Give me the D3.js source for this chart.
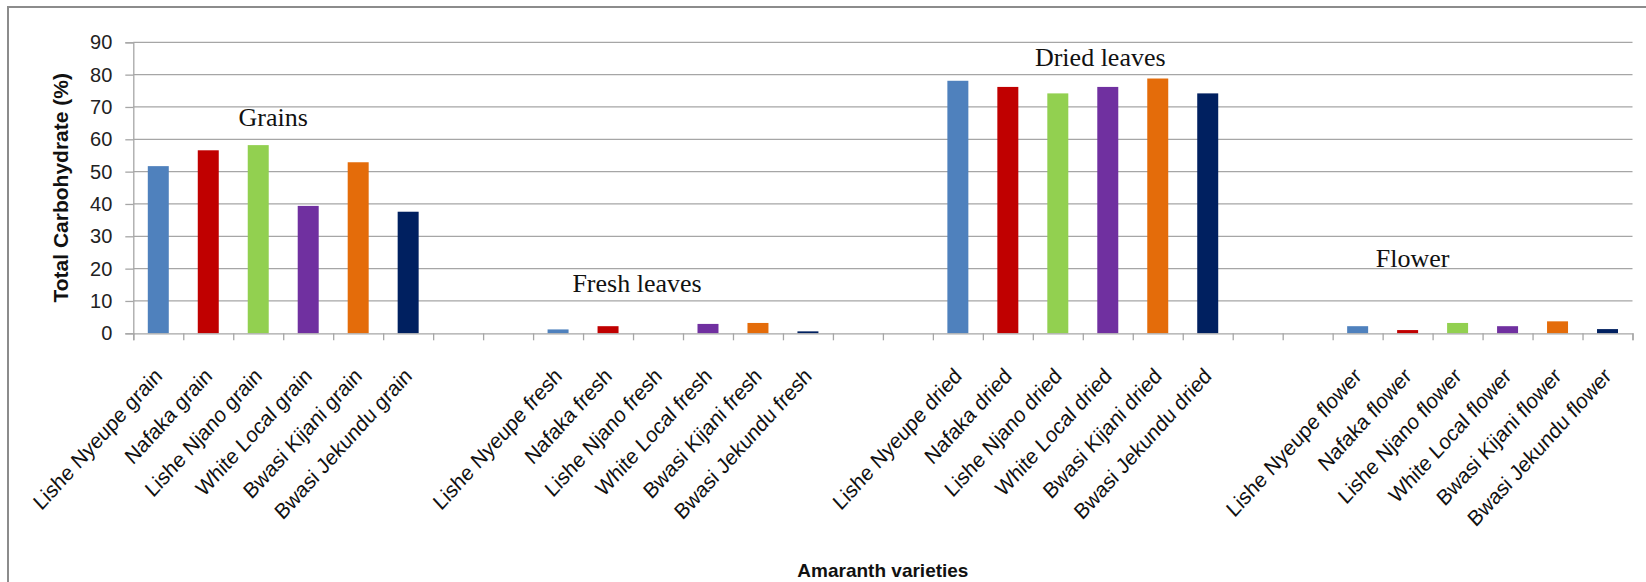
<!DOCTYPE html>
<html>
<head>
<meta charset="utf-8">
<script src="https://cdn.jsdelivr.net/npm/d3@7/dist/d3.min.js"></script>
<style>
  html, body { margin: 0; padding: 0; background: #fff; }
  svg { display: block; }
</style>
</head>
<body>
<svg id="chart" width="1646" height="582"></svg>
<script>
// Amaranth varieties, total carbohydrate (%) by plant part
const varieties = ["Lishe Nyeupe", "Nafaka", "Lishe Njano", "White Local", "Bwasi Kijani", "Bwasi Jekundu"];
const parts = ["grain", "fresh", "dried", "flower"];
const grainValues  = [51.7, 56.6, 58.2, 39.4, 52.9, 37.6];
const freshValues  = [1.2, 2.2, 0, 2.9, 3.2, 0.6];
const driedValues  = [78.1, 76.2, 74.2, 76.2, 78.8, 74.2];
const flowerValues = [2.2, 1.0, 3.2, 2.2, 3.7, 1.3];
const varietyColors = ["#4F81BD", "#C00000", "#92D050", "#7030A0", "#E46C0A", "#002060"];
const yTicks = [0, 10, 20, 30, 40, 50, 60, 70, 80, 90];
// group captions, placed in category-slot / value units
const groupNames = ["Grains", "Fresh leaves", "Dried leaves", "Flower"];
const groupNameSlot = [2.8, 10.08, 19.35, 25.6];
const groupNameValue = [64, 12.9, 82.8, 20.4];

// 30 category slots: 6 varieties per part, two empty slots between parts
const seriesByPart = [grainValues, freshValues, driedValues, flowerValues];
const slots = [];
parts.forEach((p, pi) => {
  varieties.forEach((v, vi) => {
    slots.push({ label: v + " " + p, value: seriesByPart[pi][vi], color: varietyColors[vi] });
  });
  if (pi < parts.length - 1) {
    slots.push({ label: "", value: null });
    slots.push({ label: "", value: null });
  }
});

const svg = d3.select("#chart");
const W = 1646, H = 582;
const plot = { left: 133.3, right: 1632.5, top: 42.3, bottom: 333.3 };

// chart frame (top and left edges)
svg.append("path")
  .attr("d", `M8,${H} L8,7 L${W},7`)
  .attr("fill", "none")
  .attr("stroke", "#8c8c8c")
  .attr("stroke-width", 2);

const x = d3.scaleBand()
  .domain(d3.range(slots.length))
  .range([plot.left, plot.right])
  .paddingInner(0.58)
  .paddingOuter(0.29);

const slotPos = d3.scaleLinear()
  .domain([0, slots.length])
  .range([plot.left, plot.right]);

const y = d3.scaleLinear()
  .domain([0, 90])
  .range([plot.bottom, plot.top]);

const gridColor = "#a6a6a6";

// value axis with gridlines across the plot
const yAxis = svg.append("g")
  .attr("transform", `translate(${plot.left},0)`)
  .call(d3.axisLeft(y).tickValues(yTicks).tickSize(8).tickPadding(13));
yAxis.select(".domain").attr("stroke", gridColor).attr("stroke-width", 1.3);
yAxis.selectAll(".tick line").attr("stroke", gridColor).attr("stroke-width", 1.3);
yAxis.selectAll(".tick text")
  .attr("font-family", "'Liberation Sans', Arial, sans-serif")
  .attr("font-size", 20)
  .attr("fill", "#222");

svg.append("g")
  .selectAll("line")
  .data(yTicks.filter(t => t > 0))
  .join("line")
  .attr("x1", plot.left)
  .attr("x2", plot.right)
  .attr("y1", d => y(d))
  .attr("y2", d => y(d))
  .attr("stroke", gridColor)
  .attr("stroke-width", 1.3);

// bars
svg.append("g")
  .selectAll("rect")
  .data(slots.map((s, i) => ({ ...s, i })).filter(s => s.value !== null))
  .join("rect")
  .attr("x", d => x(d.i))
  .attr("width", x.bandwidth())
  .attr("y", d => y(d.value))
  .attr("height", d => y(0) - y(d.value))
  .attr("fill", d => d.color);

// category axis: tick marks between slots
const xTickAxis = svg.append("g")
  .attr("transform", `translate(0,${plot.bottom})`)
  .call(d3.axisBottom(slotPos).tickValues(d3.range(slots.length + 1)).tickSize(7).tickFormat(""));
xTickAxis.select(".domain").attr("stroke", gridColor).attr("stroke-width", 1.3);
xTickAxis.selectAll(".tick line").attr("stroke", gridColor).attr("stroke-width", 1.3);

// slanted category labels
svg.append("g")
  .selectAll("text")
  .data(slots.map((s, i) => ({ ...s, i })).filter(s => s.label !== ""))
  .join("text")
  .attr("transform", d => `translate(${x(d.i) + x.bandwidth() / 2 + 5},${plot.bottom + 44}) scale(1,1.1) rotate(-45)`)
  .attr("text-anchor", "end")
  .attr("font-family", "'Liberation Sans', Arial, sans-serif")
  .attr("font-size", 20)
  .attr("fill", "#111")
  .text(d => d.label);

// group captions
svg.append("g")
  .selectAll("text")
  .data(groupNames.map((n, i) => ({ name: n, slot: groupNameSlot[i], value: groupNameValue[i] })))
  .join("text")
  .attr("x", d => slotPos(d.slot))
  .attr("y", d => y(d.value))
  .attr("text-anchor", "middle")
  .attr("font-family", "'Liberation Serif', 'Times New Roman', serif")
  .attr("font-size", 26)
  .attr("fill", "#111")
  .text(d => d.name);

// axis titles
svg.append("text")
  .attr("transform", `translate(68,${(plot.top + plot.bottom) / 2}) rotate(-90)`)
  .attr("text-anchor", "middle")
  .attr("font-family", "'Liberation Sans', Arial, sans-serif")
  .attr("font-weight", "bold")
  .attr("font-size", 21)
  .attr("fill", "#111")
  .text("Total Carbohydrate (%)");

svg.append("text")
  .attr("x", (plot.left + plot.right) / 2)
  .attr("y", 577)
  .attr("text-anchor", "middle")
  .attr("font-family", "'Liberation Sans', Arial, sans-serif")
  .attr("font-weight", "bold")
  .attr("font-size", 19)
  .attr("fill", "#111")
  .text("Amaranth varieties");
</script>
</body>
</html>
